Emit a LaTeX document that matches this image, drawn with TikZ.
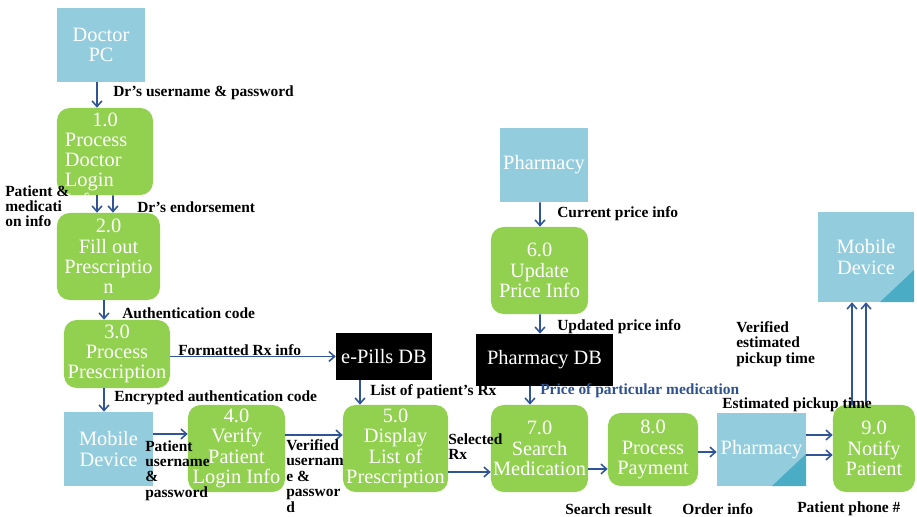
\documentclass[tikz,border=0pt]{standalone}
\usepackage{fontspec}
\setmainfont{Liberation Serif}
\usepackage{xcolor}
\usetikzlibrary{arrows.meta,calc}

\definecolor{extblue}{HTML}{93CDDD}
\definecolor{extdark}{HTML}{4BACC6}
\definecolor{procgreen}{HTML}{92D050}
\definecolor{flowblue}{HTML}{2F5597}
\definecolor{lblblue}{HTML}{2E5290}

\begin{document}
\begin{tikzpicture}[x=0.025cm,y=-0.025cm,
	ext/.style={fill=extblue,text=white,align=center,inner sep=1pt,font=\fontsize{14.5}{14.6}\selectfont},
	corner/.style={path picture={\fill[extdark] (path picture bounding box.south east) -- ++(-34,0) -- ++(34,-32) -- cycle;}},
	proc/.style={fill=procgreen,rounded corners=9pt,text=white,align=center,inner sep=1pt,font=\fontsize{14.5}{14.4}\selectfont},
	store/.style={fill=black,text=white,align=center,font=\fontsize{14.5}{14.4}\selectfont},
	flow/.style={draw=flowblue,line width=1.1pt,-{Straight Barb[length=4pt,width=7pt]}},
	lbl/.style={inner sep=0pt,align=left,font=\bfseries\fontsize{11}{11}\selectfont}]
	\useasboundingbox (0,0) rectangle (917,517);

	\node[ext,minimum width=2.2cm,minimum height=1.85cm] (doctor) at (101,45) {Doctor\\PC};
	\node[proc,minimum width=2.4cm,minimum height=2.175cm] (login) at (105,151.5) {\parbox[c][1.95cm][t]{2cm}{\centering 1.0\par\raggedright Process\\Doctor\\Login\\Info}};
	\node[proc,minimum width=2.575cm,minimum height=2.175cm] (fillrx) at (108.5,256.5) {2.0\\Fill out\\Prescriptio\\n};
	\node[proc,minimum width=2.65cm,minimum height=1.7cm] (procrx) at (117,354) {3.0\\Process\\Prescription};
	\node[ext,minimum width=2.225cm,minimum height=1.85cm] (mobl) at (108.5,449) {Mobile\\Device};
	\node[proc,minimum width=2.425cm,minimum height=2.175cm] (verify) at (236.5,448.5) {4.0\\Verify\\Patient\\Login Info};
	\node[proc,minimum width=2.625cm,minimum height=2.175cm] (display) at (395.5,448.5) {5.0\\Display\\List of\\Prescription};
	\node[store,minimum width=2.4cm,minimum height=1.175cm] (epills) at (384,356.5) {e-Pills DB};
	\node[ext,minimum width=2.2cm,minimum height=1.85cm] (pharmtop) at (544,165) {Pharmacy};
	\node[proc,minimum width=2.425cm,minimum height=2.175cm] (update) at (539.5,270.5) {6.0\\Update\\Price Info};
	\node[store,minimum width=3.425cm,minimum height=1.3cm] (pharmdb) at (544.5,360) {Pharmacy DB};
	\node[proc,minimum width=2.425cm,minimum height=2.175cm] (search) at (539.5,448.5) {7.0\\Search\\Medication};
	\node[proc,minimum width=2.25cm,minimum height=1.825cm] (payment) at (653,449.5) {8.0\\Process\\Payment};
	\node[ext,corner,minimum width=2.225cm,minimum height=1.825cm] (pharmbot) at (761.5,449.5) {Pharmacy};
	\node[proc,minimum width=2.05cm,minimum height=2.175cm] (notify) at (874,448.5) {9.0\\Notify\\Patient};
	\node[ext,corner,minimum width=2.4cm,minimum height=2.25cm] (mobr) at (866,257) {Mobile\\Device};

	\draw[flow] ($(doctor.south)+(-4,0)$) -- ($(login.north)+(-8,0)$);
	\draw[flow] ($(login.south)+(-8,0)$) -- ($(fillrx.north)+(-11.5,0)$);
	\draw[flow] ($(login.south)+(8,0)$) -- ($(fillrx.north)+(4.5,0)$);
	\draw[flow] ($(fillrx.south)+(-4.5,0)$) -- ($(procrx.north)+(-13,0)$);
	\draw[flow] (procrx.east |- epills.west) -- (epills.west);
	\draw[flow] ($(procrx.south)+(-13,0)$) -- ($(mobl.north)+(-4.5,0)$);
	\draw[flow] ($(mobl.east)+(0,-15)$) -- ($(verify.west)+(0,-14.5)$);
	\draw[flow] ($(verify.east)+(0,-13.5)$) -- ($(display.west)+(0,-13.5)$);
	\draw[flow] ($(epills.south)+(-24,0)$) -- ($(display.north)+(-35.5,0)$);
	\draw[flow] ($(display.east)+(0,23.5)$) -- ($(search.west)+(0,23.5)$);
	\draw[flow] ($(pharmdb.south)+(-14.5,0)$) -- ($(search.north)+(-9.5,0)$);
	\draw[flow] ($(pharmtop.south)+(-4,0)$) -- ($(update.north)+(0.5,0)$);
	\draw[flow] ($(update.south)+(0.5,0)$) -- ($(pharmdb.north)+(-4.5,0)$);
	\draw[flow] ($(search.east)+(0,20.5)$) -- ($(payment.west)+(0,19.5)$);
	\draw[flow] ($(payment.east)+(0,2.5)$) -- ($(pharmbot.west)+(0,2.5)$);
	\draw[flow] ($(pharmbot.east)+(0,-14.5)$) -- ($(notify.west)+(0,-13.5)$);
	\draw[flow] ($(pharmbot.east)+(0,5.5)$) -- ($(notify.west)+(0,6.5)$);
	\draw[flow] ($(notify.north)+(-22,0)$) -- ($(mobr.south)+(-14,0)$);
	\draw[flow] ($(notify.north)+(-8,0)$) -- ($(mobr.south)+(0,0)$);

	\node[lbl,anchor=west] (lcred) at (113,93) {Dr's username \& password};
	\node[lbl,anchor=north west] (lpatmed) at (5,185) {Patient \&\\medicati\\on info};
	\node[lbl,anchor=west] (lendorse) at (137,207) {Dr's endorsement};
	\node[lbl,anchor=west] (lauth) at (122,313) {Authentication code};
	\node[lbl,anchor=west] (lformat) at (178,350) {Formatted Rx info};
	\node[lbl,anchor=west] (lencrypt) at (114,398) {Encrypted authentication code};
	\node[lbl,anchor=north west] (lpatcred) at (145,440) {Patient\\username\\\&\\password};
	\node[lbl,anchor=north west] (lvercred) at (286,439) {Verified\\usernam\\e \&\\passwor\\d};
	\node[lbl,anchor=west] (llist) at (370,392) {List of patient's Rx};
	\node[lbl,anchor=north west] (lselect) at (448,433) {Selected\\Rx};
	\node[lbl,anchor=west,text=lblblue] (lprice) at (540,391) {Price of particular medication};
	\node[lbl,anchor=west] (lcurrent) at (557,214) {Current price info};
	\node[lbl,anchor=west] (lupdated) at (557,327) {Updated price info};
	\node[lbl,anchor=north west] (lverpick) at (736,321) {Verified\\estimated\\pickup time};
	\node[lbl,anchor=west] (lestpick) at (722,405) {Estimated pickup time};
	\node[lbl,anchor=west] (lresult) at (565,509) {Search result};
	\node[lbl,anchor=west] (lorder) at (682,509) {Order info};
	\node[lbl,anchor=west] (lphone) at (797,509) {Patient phone \#};
\end{tikzpicture}
\end{document}
